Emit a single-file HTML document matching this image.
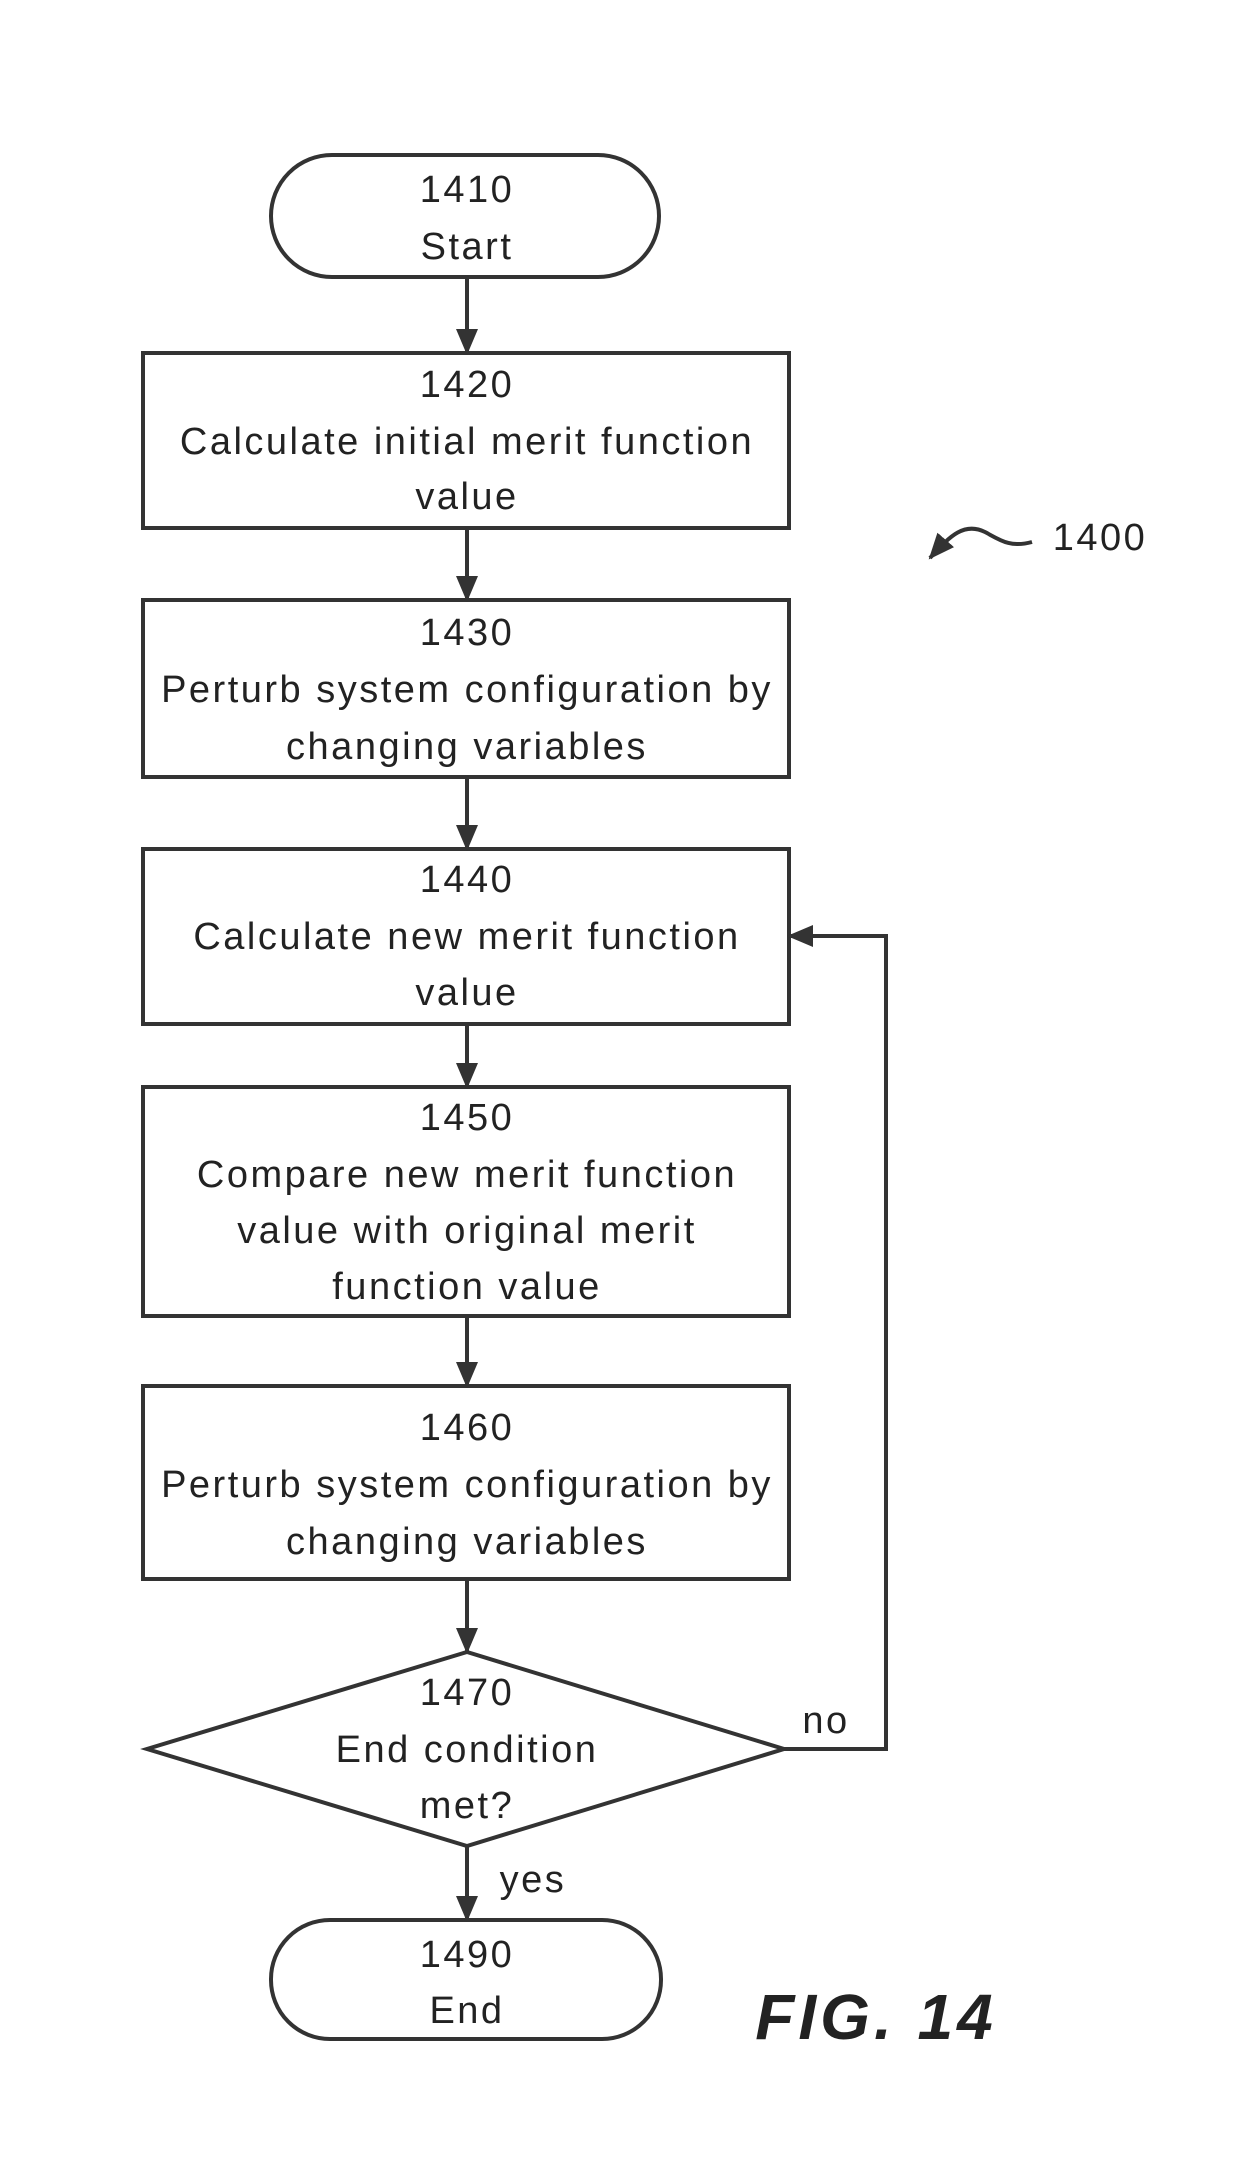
<!DOCTYPE html>
<html><head><meta charset="utf-8"><style>
html,body{margin:0;padding:0;background:#fff}
svg text{font-family:"Liberation Sans",sans-serif;font-size:38px;letter-spacing:2.5px;fill:#222;text-anchor:middle;dominant-baseline:central}
</style></head><body>
<svg width="1255" height="2161" viewBox="0 0 1255 2161" xmlns="http://www.w3.org/2000/svg">
<defs>
<marker id="b" markerWidth="26" markerHeight="26" refX="24" refY="13" orient="auto" markerUnits="userSpaceOnUse" viewBox="0 0 26 26"><path d="M0,2 L26,13 L0,24 z" fill="#333"/></marker></defs>
<g fill="none" stroke="#333" stroke-width="4">
<rect x="271" y="155" width="388" height="122" rx="61"/>
<rect x="143" y="353" width="646" height="175"/>
<rect x="143" y="600" width="646" height="177"/>
<rect x="143" y="849" width="646" height="175"/>
<rect x="143" y="1087" width="646" height="229"/>
<rect x="143" y="1386" width="646" height="193"/>
<polygon points="467,1652 784,1749 467,1846 147,1749"/>
<rect x="271" y="1920" width="390" height="119" rx="59"/>
<line x1="467" y1="277" x2="467" y2="353" marker-end="url(#b)"/>
<line x1="467" y1="528" x2="467" y2="600" marker-end="url(#b)"/>
<line x1="467" y1="777" x2="467" y2="849" marker-end="url(#b)"/>
<line x1="467" y1="1024" x2="467" y2="1087" marker-end="url(#b)"/>
<line x1="467" y1="1316" x2="467" y2="1386" marker-end="url(#b)"/>
<line x1="467" y1="1579" x2="467" y2="1652" marker-end="url(#b)"/>
<line x1="467" y1="1846" x2="467" y2="1920" marker-end="url(#b)"/>
<polyline points="784,1749 886,1749 886,936 789,936" marker-end="url(#b)"/>
<path d="M1032,542 C1010,548 1000,540 985,532 C965,522 950,535 930,558" marker-end="url(#b)"/>
</g>
<text x="467" y="190">1410</text><text x="467" y="247">Start</text>
<text x="467" y="385">1420</text><text x="467" y="442">Calculate initial merit function</text><text x="467" y="497">value</text>
<text x="467" y="633">1430</text><text x="467" y="690">Perturb system configuration by</text><text x="467" y="747">changing variables</text>
<text x="467" y="880">1440</text><text x="467" y="937">Calculate new merit function</text><text x="467" y="993">value</text>
<text x="467" y="1118">1450</text><text x="467" y="1175">Compare new merit function</text><text x="467" y="1231">value with original merit</text><text x="467" y="1287">function value</text>
<text x="467" y="1428">1460</text><text x="467" y="1485">Perturb system configuration by</text><text x="467" y="1542">changing variables</text>
<text x="467" y="1693">1470</text><text x="467" y="1750">End condition</text><text x="467" y="1806">met?</text>
<text x="467" y="1955">1490</text><text x="467" y="2011">End</text>
<text x="826" y="1721">no</text>
<text x="533" y="1880">yes</text>
<text x="1100" y="538">1400</text>
<text x="876" y="2017" style="font-size:64px;font-weight:bold;font-style:italic;letter-spacing:4px">FIG.  14</text>
</svg>
</body></html>
